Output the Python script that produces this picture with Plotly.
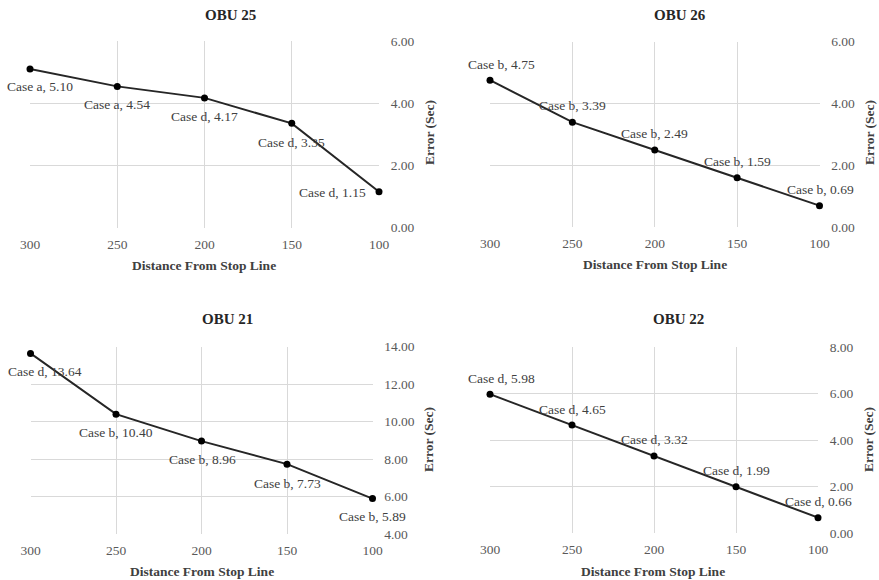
import plotly.graph_objects as go

# ---- data ----
distance = [300, 250, 200, 150, 100]

obu25_err = [5.10, 4.54, 4.17, 3.35, 1.15]
obu25_case = ["a", "a", "d", "d", "d"]

obu26_err = [4.75, 3.39, 2.49, 1.59, 0.69]
obu26_case = ["b", "b", "b", "b", "b"]

obu21_err = [13.64, 10.40, 8.96, 7.73, 5.89]
obu21_case = ["d", "b", "b", "b", "b"]

obu22_err = [5.98, 4.65, 3.32, 1.99, 0.66]
obu22_case = ["d", "d", "d", "d", "d"]

x_ticks = [300, 250, 200, 150, 100]

# ---- layout / style ----
W, H = 879, 580
FONT = "Liberation Serif"
LINE_C = "#262626"
TXT_C = "#404040"
TICK_C = "#595959"
GRID_C = "#d9d9d9"


def px_x(p):
    return p / W


def px_y(p):
    return 1 - p / H


panels = [
    dict(name="OBU 25", err=obu25_err, case=obu25_case,
         xd=(30, 379), yd=(41, 227.5), yr=(0, 6), dt=2,
         xs=[10, 0, 0, 0, -11], ys=[-18, -18, -19, -19, -1],
         xa=["center", "center", "center", "center", "right"],
         title=(230, 15), xt=(204, 265), yt=(430, 133)),
    dict(name="OBU 26", err=obu26_err, case=obu26_case,
         xd=(490, 819.5), yd=(41.5, 227), yr=(0, 6), dt=2,
         xs=[11, 0, 0, 0, 1], ys=[16, 17, 17, 16, 16],
         xa=["center"] * 5,
         title=(680, 15), xt=(655, 264), yt=(870, 133)),
    dict(name="OBU 21", err=obu21_err, case=obu21_case,
         xd=(30.5, 372.5), yd=(346.7, 534), yr=(4, 14), dt=2,
         xs=[14, 0, 1, 0, 0], ys=[-18, -18, -18, -19, -18],
         xa=["center"] * 5,
         title=(228, 319), xt=(202, 571), yt=(428, 440)),
    dict(name="OBU 22", err=obu22_err, case=obu22_case,
         xd=(490, 818), yd=(347.3, 533), yr=(0, 8), dt=2,
         xs=[11, 0, 0, 0, 0], ys=[16, 16, 16, 16, 16],
         xa=["center"] * 5,
         title=(678, 319), xt=(653, 571), yt=(868, 440)),
]

fig = go.Figure()
annotations = []
layout = dict(
    width=W, height=H, autosize=False,
    margin=dict(l=0, r=0, t=0, b=0, pad=0, autoexpand=False),
    paper_bgcolor="white", plot_bgcolor="white",
    showlegend=False,
    font=dict(family=FONT, size=13.5, color=TICK_C),
)

for i, p in enumerate(panels, start=1):
    sx = "" if i == 1 else str(i)
    xname, yname = "x" + sx, "y" + sx
    fig.add_trace(go.Scatter(
        x=distance, y=p["err"], mode="lines+markers",
        line=dict(color=LINE_C, width=2),
        marker=dict(color="black", size=7),
        cliponaxis=False,
        xaxis=xname, yaxis=yname, hoverinfo="skip",
    ))
    layout["xaxis" + sx] = dict(
        domain=[px_x(p["xd"][0]), px_x(p["xd"][1])],
        anchor=yname, range=[300, 100], automargin=False,
        tickvals=x_ticks, ticktext=[str(v) for v in x_ticks],
        showgrid=True, gridcolor=GRID_C, gridwidth=1,
        zeroline=False, showline=False,
        ticks="outside", ticklen=4, tickcolor="rgba(0,0,0,0)",
        tickfont=dict(family=FONT, size=13.5, color=TICK_C),
    )
    layout["yaxis" + sx] = dict(
        domain=[px_y(p["yd"][1]), px_y(p["yd"][0])],
        anchor=xname, side="right", range=list(p["yr"]), dtick=p["dt"],
        tickformat=".2f", automargin=False,
        showgrid=True, gridcolor=GRID_C, gridwidth=1,
        zeroline=False, showline=False,
        ticks="outside", ticklen=8, tickcolor="rgba(0,0,0,0)",
        tickfont=dict(family=FONT, size=13.5, color=TICK_C),
    )
    for j in range(len(distance)):
        annotations.append(dict(
            x=distance[j], y=p["err"][j], xref=xname, yref=yname,
            text=f"Case {p['case'][j]}, {p['err'][j]:.2f}",
            showarrow=False, xanchor=p["xa"][j], yanchor="middle",
            xshift=p["xs"][j], yshift=p["ys"][j],
            font=dict(family=FONT, size=13.5, color=TXT_C),
        ))
    annotations.append(dict(
        x=px_x(p["title"][0]), y=px_y(p["title"][1]), xref="paper", yref="paper",
        text=f"<b>{p['name']}</b>", showarrow=False,
        xanchor="center", yanchor="middle",
        font=dict(family=FONT, size=15, color="#262626"),
    ))
    annotations.append(dict(
        x=px_x(p["xt"][0]), y=px_y(p["xt"][1]), xref="paper", yref="paper",
        text="<b>Distance From Stop Line</b>", showarrow=False,
        xanchor="center", yanchor="middle",
        font=dict(family=FONT, size=13.5, color="#404040"),
    ))
    annotations.append(dict(
        x=px_x(p["yt"][0]), y=px_y(p["yt"][1]), xref="paper", yref="paper",
        text="<b>Error (Sec)</b>", showarrow=False, textangle=-90,
        xanchor="center", yanchor="middle",
        font=dict(family=FONT, size=13.5, color="#404040"),
    ))

layout["annotations"] = annotations
fig.update_layout(**layout)
fig.write_html(
    "out.html",
    config={"displayModeBar": False, "staticPlot": True},
    post_script="document.body.style.margin='0';document.body.style.padding='0';",
)
